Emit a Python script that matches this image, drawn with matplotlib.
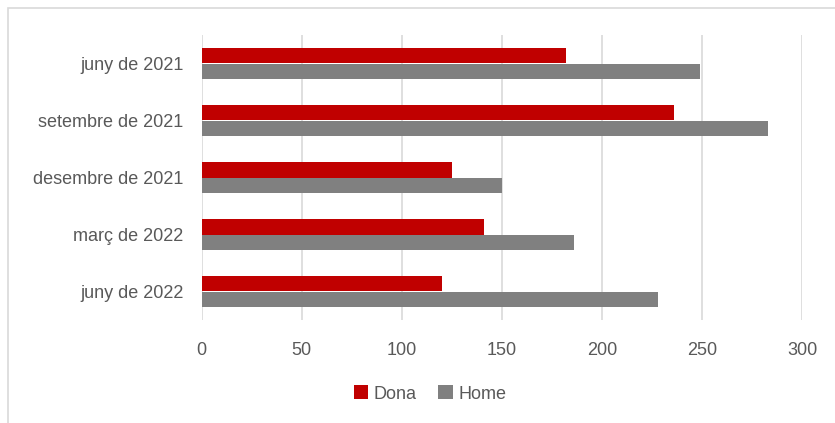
import numpy as np
import matplotlib.pyplot as plt
from matplotlib.patches import Rectangle

categories = ['juny de 2021', 'setembre de 2021', 'desembre de 2021', 'març de 2022', 'juny de 2022']
dona = [182, 236, 125, 141, 120]
home = [249, 283, 150, 186, 228]
xticks = [0, 50, 100, 150, 200, 250, 300]

plt.rcParams['font.family'] = ['Liberation Sans', 'DejaVu Sans']

fig = plt.figure(figsize=(8.35, 4.23), dpi=100)
ax = fig.add_axes([201.5 / 835, 1 - 320 / 423, 600.5 / 835, 285 / 423])

# outer chart frame (only top/left visible in the crop)
fig.patches.append(Rectangle((8 / 835, -0.1), 1.2, 1 - 8 / 423 + 0.1, transform=fig.transFigure,
                             fill=False, edgecolor='#d9d9d9', linewidth=1.2))

y = np.arange(len(categories))
h = 0.265
ax.barh(y - h / 2, dona, height=h, color='#c00000', label='Dona', zorder=3)
ax.barh(y + h / 2, home, height=h, color='#808080', label='Home', zorder=3)

ax.set_ylim(len(categories) - 0.5, -0.5)
ax.set_xlim(0, 300)
ax.set_yticks(y)
ax.set_yticklabels(categories)
ax.set_xticks(xticks)
ax.tick_params(axis='y', length=0, pad=13, labelsize=13, labelcolor='#595959')
ax.tick_params(axis='x', length=0, pad=16, labelsize=13, labelcolor='#595959')
ax.grid(axis='x', color='#d9d9d9', linewidth=1.2, zorder=0)
for s in ax.spines.values():
    s.set_visible(False)

fig.legend(loc='center', bbox_to_anchor=(0.515, 1 - 394 / 423), ncol=2, frameon=False,
           fontsize=13, labelcolor='#595959', handlelength=0.8, handleheight=0.8,
           handletextpad=0.3, columnspacing=1.2)

fig.savefig('out.png', dpi=100)
